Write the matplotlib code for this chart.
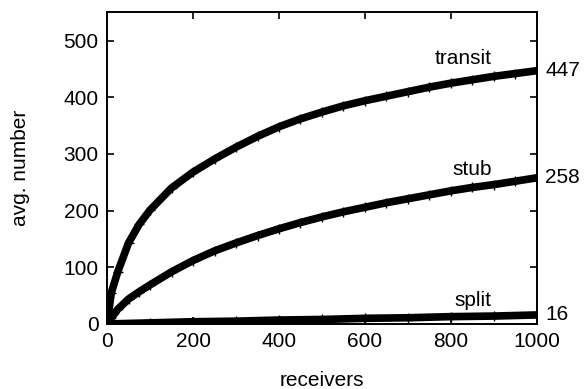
import numpy as np
import matplotlib.pyplot as plt

plt.rcParams['font.family'] = ['Liberation Sans', 'DejaVu Sans']

# average counts vs. number of receivers
receivers = [0, 10, 25, 50, 75, 100, 150, 200, 250, 300, 350, 400, 450, 500,
             550, 600, 650, 700, 750, 800, 850, 900, 950, 1000]
transit = [0, 55, 92, 143, 176, 201, 240, 268, 291, 312, 331, 348, 362, 374,
           385, 394, 402, 410, 418, 425, 431, 437, 442, 447]
stub = [0, 11, 26, 44, 57, 69, 92, 112, 129, 143, 156, 168, 179, 189,
        198, 206, 214, 221, 228, 235, 241, 246, 252, 258]
split_rx = [0, 100, 200, 300, 400, 500, 600, 700, 800, 900, 1000]
split = [0, 2, 4, 5, 7, 8, 10, 11, 13, 14, 16]

fig = plt.figure(figsize=(5.87, 3.89), dpi=100)
ax = fig.add_axes([0.1823, 0.1671, 0.7325, 0.8013])

for xs, ys in [(receivers, transit), (receivers, stub), (split_rx, split)]:
    ax.plot(xs, ys, 'k-', lw=5.5, solid_capstyle='butt')
    ax.plot(xs, ys, 'k+', ms=7, mew=1.0)

ax.text(828, 469, 'transit', ha='center', va='center', fontsize=15)
ax.text(849, 273, 'stub', ha='center', va='center', fontsize=15)
ax.text(851, 42, 'split', ha='center', va='center', fontsize=15)

for v in [transit[-1], stub[-1], split[-1]]:
    ax.annotate(str(v), xy=(1000, v), xytext=(6, 0), textcoords='offset points',
                ha='left', va='center', fontsize=15, annotation_clip=False)

ax.set_xlim(0, 1000)
ax.set_ylim(0, 550)
ax.set_xticks([0, 200, 400, 600, 800, 1000])
ax.set_yticks([0, 100, 200, 300, 400, 500])
ax.tick_params(direction='in', top=True, right=True, length=5, width=1.2,
               labelsize=15, pad=6)
for s in ax.spines.values():
    s.set_linewidth(1.4)
ax.set_xlabel('receivers', fontsize=15, labelpad=14)
ax.set_ylabel('avg. number', fontsize=15, labelpad=24)

plt.savefig('out.png', dpi=100)
